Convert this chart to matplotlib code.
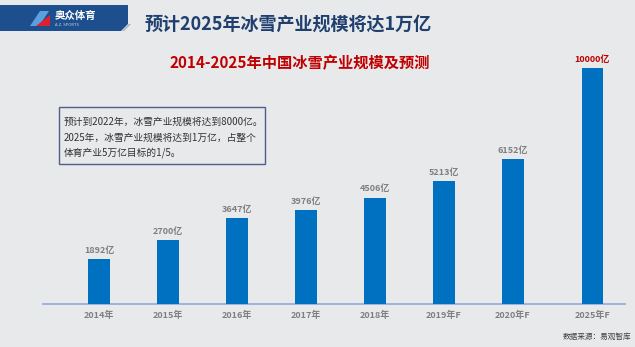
import matplotlib
matplotlib.use("Agg")
import matplotlib.pyplot as plt
from matplotlib.patches import Polygon, Rectangle
import numpy as np

plt.rcParams['font.family'] = ['Noto Sans CJK SC', 'DejaVu Sans']

categories = ["2014年", "2015年", "2016年", "2017年", "2018年", "2019年F", "2020年F", "2025年F"]
values = [1892, 2700, 3647, 3976, 4506, 5213, 6152, 10000]
title = "预计2025年冰雪产业规模将达1万亿"
subtitle = "2014-2025年中国冰雪产业规模及预测"
note_lines = ["预计到2022年，冰雪产业规模将达到8000亿。",
              "2025年，冰雪产业规模将达到1万亿，占整个",
              "体育产业5万亿目标的1/5。"]
source = "数据来源：易观智库"
logo_text = "奥众体育"
logo_sub = "A.Z. SPORTS"

W, H = 635, 347
BG = "#e8e9eb"
BAR = "#0070c0"

fig = plt.figure(figsize=(W / 100, H / 100), dpi=100, facecolor=BG)


def fx(x):
    return x / W


def fy(y):
    return 1 - y / H


# axes: left 43px, right 625px, baseline 304px, top 40px
ax = fig.add_axes([fx(43), fy(304), fx(625) - fx(43), fy(40) - fy(304)])
ax.set_facecolor(BG)
ax.patch.set_alpha(0)
x = np.arange(len(values), dtype=float)
x[-1] += 0.15
ax.bar(x, values, width=0.31, color=BAR, zorder=3)
ax.set_xlim((43 - 99) / 69, (625 - 99) / 69)
ax.set_ylim(0, 10000 * 264 / 236)
for s in ["top", "right", "left"]:
    ax.spines[s].set_visible(False)
ax.spines["bottom"].set_color("#8faadc")
ax.spines["bottom"].set_linewidth(1.2)
ax.set_yticks([])
ax.set_xticks(x)
ax.set_xticklabels(categories, fontsize=6.5, color="#7f7f7f", fontweight="bold")
ax.tick_params(axis="x", length=0, pad=5)

for xi, v in zip(x, values):
    col = "#c00000" if v == max(values) else "#7f7f7f"
    ax.annotate(f"{v}亿", (xi, v), xytext=(0, 3), textcoords="offset points",
                ha="center", va="bottom", fontsize=6.5, color=col, fontweight="bold")

# banner / logo
banner = Polygon([(fx(0), fy(5)), (fx(128), fy(5)), (fx(128), fy(24)),
                  (fx(121), fy(31)), (fx(0), fy(31))], closed=True,
                 transform=fig.transFigure, facecolor="#1d4f8f", edgecolor="none")
fig.patches.append(banner)
stripe = Polygon([(fx(122), fy(31)), (fx(129), fy(24)), (fx(131), fy(24)), (fx(124), fy(31))],
                 closed=True, transform=fig.transFigure, facecolor="#9fb0c8", edgecolor="none")
fig.patches.append(stripe)
icon_b = Polygon([(fx(30), fy(26)), (fx(40), fy(11)), (fx(49), fy(11)), (fx(39), fy(26))],
                 closed=True, transform=fig.transFigure, facecolor="#5aa0e0", edgecolor="none")
fig.patches.append(icon_b)
icon_r = Polygon([(fx(36), fy(26)), (fx(50), fy(15)), (fx(50), fy(26))],
                 closed=True, transform=fig.transFigure, facecolor="#e02030", edgecolor="none")
fig.patches.append(icon_r)
fig.text(fx(55), fy(16), logo_text, fontsize=7.5, color="white", fontweight="bold",
         ha="left", va="center")
fig.text(fx(55), fy(25), logo_sub, fontsize=3, color="#c8d4e6", ha="left", va="center")

fig.text(fx(145), fy(24), title, fontsize=13, color="#1f3f6e", fontweight="bold",
         ha="left", va="center")
fig.text(fx(300), fy(63), subtitle, fontsize=11, color="#c00000", fontweight="bold",
         ha="center", va="center")

# note box
box = Rectangle((fx(59), fy(164)), fx(265) - fx(59), fy(107) - fy(164),
                transform=fig.transFigure, facecolor="none", edgecolor="#4f5f8a", lw=1)
fig.patches.append(box)
for i, line in enumerate(note_lines):
    fig.text(fx(64), fy(122 + 15.5 * i), line, fontsize=7, color="#333333",
             ha="left", va="center")

fig.text(fx(631), fy(337), source, fontsize=5.5, color="#404040", ha="right", va="center")

fig.savefig("out.png", dpi=100, facecolor=BG)
